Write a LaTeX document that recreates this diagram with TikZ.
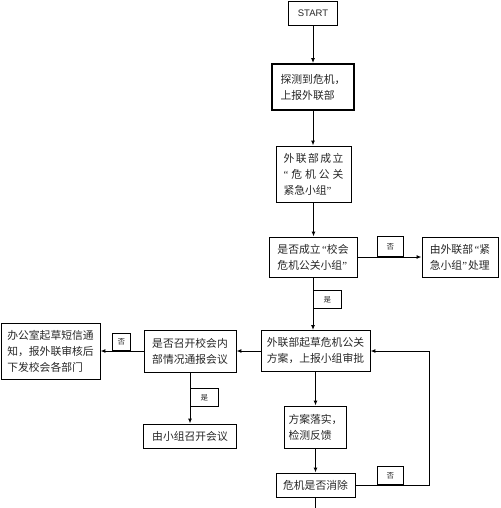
\documentclass[tikz,border=0pt]{standalone}
\usepackage{fontspec}
\setmainfont{Liberation Serif}
\newfontfamily\cjk{Noto Sans CJK SC}
\newfontfamily\arialfont{Liberation Sans}
\newfontfamily\latq{Liberation Serif}
\newcommand{\oqt}{{\latq\hspace{1.5pt}“}}
\newcommand{\cqt}{{\latq ”\hspace{1pt}}}
\usetikzlibrary{arrows.meta}
\begin{document}
\begin{tikzpicture}[x=1pt,y=-1pt,
  box/.style={draw,line width=0.9pt,inner sep=2pt,align=left,font=\cjk\fontsize{10.8}{16}\selectfont,text=black!85},
  lab/.style={draw,line width=0.8pt,inner sep=0pt,font=\cjk\fontsize{7.5}{8}\selectfont,text=black!85},
  arr/.style={line width=1pt,-{Latex[length=5pt,width=4pt]}},
  ln/.style={line width=1pt}]
\useasboundingbox (0,0) rectangle (500,508);
% main column
\node[box,font=\arialfont\fontsize{9.5}{10}\selectfont,minimum width=49,minimum height=24] (start) at (313,13) {START};
\node[box,line width=1.8pt,minimum width=82,minimum height=46] (b2) at (313,87) {探测到危机，\\上报外联部};
\node[box,minimum width=75,minimum height=56] (b3) at (313.5,174) {\makebox[60pt][s]{外\hfill 联\hfill 部\hfill 成\hfill 立}\\\makebox[60pt][s]{{\latq “}\hfill 危\hfill 机\hfill 公\hfill 关}\\紧急小组{\latq ”}};
\node[box,minimum width=88,minimum height=40] (b4) at (313,257) {是否成立\oqt 校会\\危机公关小组{\latq ”}};
\node[box,minimum width=76,minimum height=40] (b5) at (460,257) {由外联部\oqt 紧\\急小组\cqt 处理};
\node[box,minimum width=109,minimum height=41] (b6) at (315.5,351) {外联部起草危机公关\\方案，上报小组审批};
\node[box,minimum width=62,minimum height=42] (b7) at (315.5,427) {方案落实，\\检测反馈};
\node[box,minimum width=79,minimum height=24] (b8) at (315.5,485) {危机是否消除};
% left branch
\node[box,minimum width=92,minimum height=42] (b9) at (190,351) {是否召开校会内\\部情况通报会议};
\node[box,minimum width=93,minimum height=24] (b10) at (190,436) {由小组召开会议};
\node[box,minimum width=99,minimum height=56] (b11) at (50.5,351) {办公室起草短信通\\知，报外联审核后\\下发校会各部门};
% connectors
\draw[arr] (start.south) -- (start.south |- b2.north);
\draw[arr] (b2.south) -- (b2.south |- b3.north);
\draw[arr] (b3.south) -- (b3.south |- b4.north);
\draw[arr] (b4.east) -- (b5.west);
\draw[arr] (b4.south) -- (b4.south |- b6.north);
\draw[arr] (b6.south) -- (b7.north);
\draw[arr] (b7.south) -- (b8.north);
\coordinate (loopc) at (429,485);
\draw[arr] (b8.east) -- (loopc) -- (loopc |- b6.east) -- (b6.east);
\coordinate (bottomend) at (315.5,510);
\draw[ln] (b8.south) -- (bottomend);
\draw[arr] (b6.west) -- (b9.east);
\draw[arr] (b9.west) -- (b11.east);
\draw[arr] (b9.south) -- (b9.south |- b10.north);
% labels
\node[lab,minimum width=26,minimum height=20,anchor=south west] (l1) at (377,257) {否};
\node[lab,minimum width=28,minimum height=18,anchor=north west] (l2) at (313,290) {是};
\node[lab,minimum width=26,minimum height=18,anchor=south west] (l3) at (377,485) {否};
\node[lab,minimum width=18,minimum height=17,anchor=south west] (l4) at (112,351) {否};
\node[lab,minimum width=28,minimum height=18,anchor=north west] (l5) at (190,388) {是};
\end{tikzpicture}
\end{document}
